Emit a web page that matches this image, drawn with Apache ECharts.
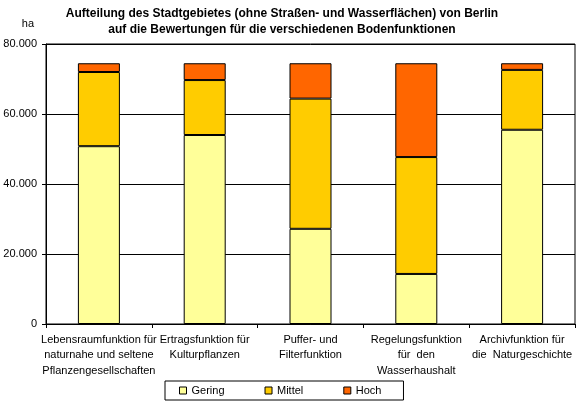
<!DOCTYPE html>
<html>
<head>
<meta charset="utf-8">
<script src="https://cdn.jsdelivr.net/npm/echarts@6/dist/echarts.min.js"></script>
<style>
  html, body { margin: 0; padding: 0; background: #fff; }
</style>
</head>
<body>
<div id="bodenChart" style="width: 580px; height: 410px;"></div>
<script type="text/javascript">
	// Kategorien (Bodenfunktionen)
	var categories = [
		"Lebensraumfunktion für\nnaturnahe und seltene\nPflanzengesellschaften",
		"Ertragsfunktion für\nKulturpflanzen",
		"Puffer- und\nFilterfunktion",
		"Regelungsfunktion\nfür  den\nWasserhaushalt",
		"Archivfunktion für\ndie  Naturgeschichte"
	];
	// Flächen in ha
	var gering = [50800, 54000, 27200, 14300, 55500];
	var mittel = [21200, 15700, 37200, 33400, 17100];
	var hoch = [2500, 4800, 10100, 26800, 1900];
	var seriesNames = ["Gering", "Mittel", "Hoch"];
	var yTicks = [0, 20000, 40000, 60000, 80000];

	var fontName = "'Liberation Sans', Arial, sans-serif";

	function formatDe(v) {
		return String(v).replace(/\B(?=(\d{3})+(?!\d))/g, ".");
	}

	function barSeries(name, values, color) {
		return {
			name : name,
			type : 'bar',
			stack : 'flaeche',
			barWidth : 42,
			data : values,
			itemStyle : {
				color : color,
				borderColor : '#000',
				borderWidth : 1
			}
		};
	}

	var option = {
		animation : false,
		backgroundColor : '#fff',
		title : {
			text : 'Aufteilung des Stadtgebietes (ohne Straßen- und Wasserflächen) von Berlin\nauf die Bewertungen für die verschiedenen Bodenfunktionen',
			left : 277,
			textAlign : 'center',
			top : 1,
			textStyle : {
				fontFamily : fontName,
				fontSize : 12,
				fontWeight : 'bold',
				color : '#000',
				lineHeight : 16
			}
		},
		legend : {
			data : seriesNames,
			left : 165,
			top : 381,
			padding : [ 4, 22, 4, 14 ],
			itemGap : 40,
			itemWidth : 7,
			itemHeight : 7,
			icon : 'rect',
			borderColor : '#000',
			borderWidth : 1,
			itemStyle : {
				borderColor : '#000',
				borderWidth : 1
			},
			textStyle : {
				fontFamily : fontName,
				fontSize : 11,
				color : '#000'
			}
		},
		grid : {
			left : 46,
			right : 5,
			top : 44,
			bottom : 86,
			show : true,
			borderColor : '#000',
			borderWidth : 1,
			containLabel : false
		},
		xAxis : {
			type : 'category',
			data : categories,
			axisLine : { lineStyle : { color : '#000', width : 1 } },
			axisTick : { show : true, length : 4, lineStyle : { color : '#000' } },
			axisLabel : {
				interval : 0,
				margin : 8,
				fontFamily : fontName,
				fontSize : 11,
				lineHeight : 15.5,
				color : '#000'
			}
		},
		yAxis : {
			type : 'value',
			min : yTicks[0],
			max : yTicks[yTicks.length - 1],
			interval : yTicks[1] - yTicks[0],
			name : 'ha',
			nameLocation : 'end',
			nameGap : 15,
			nameTextStyle : {
				fontFamily : fontName,
				fontSize : 11,
				color : '#000',
				align : 'right',
				padding : [ 0, 12, 0, 0 ]
			},
			axisLine : { show : true, lineStyle : { color : '#000', width : 1 } },
			axisTick : { show : true, length : 4, lineStyle : { color : '#000' } },
			axisLabel : {
				margin : 9,
				fontFamily : fontName,
				fontSize : 11,
				color : '#000',
				formatter : function(v) { return formatDe(v); }
			},
			splitLine : { show : true, lineStyle : { color : '#000', width : 1, type : 'solid' } }
		},
		series : [
			barSeries(seriesNames[0], gering, '#FFFF99'),
			barSeries(seriesNames[1], mittel, '#FFCC00'),
			barSeries(seriesNames[2], hoch, '#FF6600')
		]
	};

	var chart = echarts.init(document.getElementById('bodenChart'));
	chart.setOption(option);
</script>
</body>
</html>
